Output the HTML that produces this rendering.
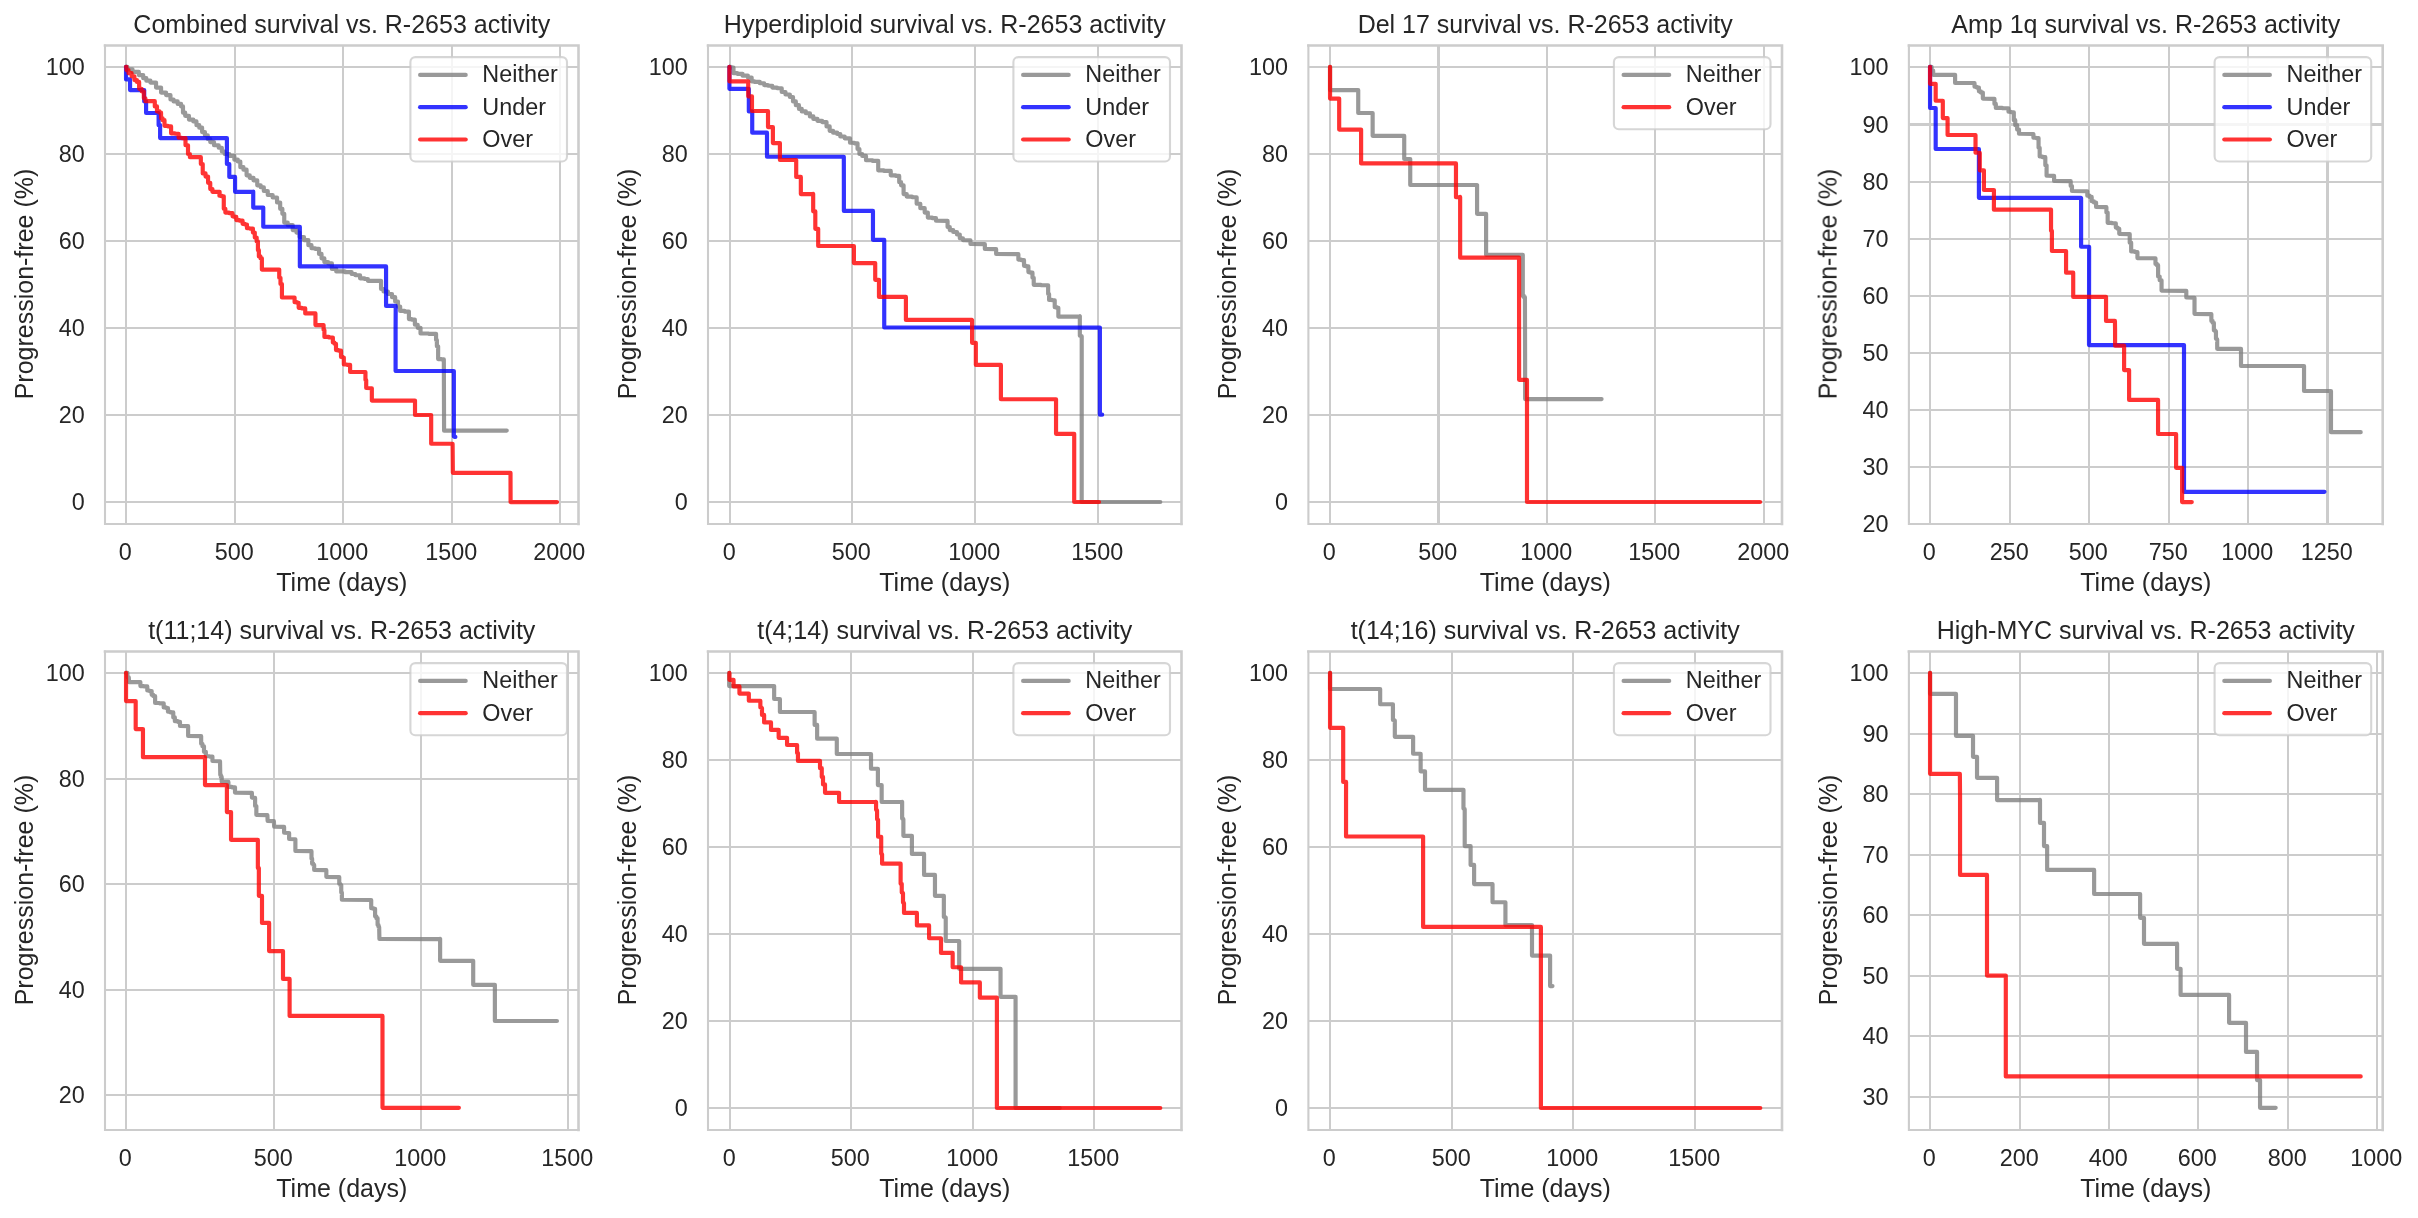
<!DOCTYPE html>
<html lang="en">
<head>
<meta charset="utf-8">
<title>Survival vs. R-2653 activity</title>
<style>
html,body{margin:0;padding:0;background:#ffffff;}
body{width:2418px;height:1218px;overflow:hidden;}
svg{display:block;}
svg text{font-family:"Liberation Sans", sans-serif;fill:#262626;}
</style>
</head>
<body>
<svg width="2418" height="1218" viewBox="0 0 2418 1218">
<rect width="2418" height="1218" fill="#ffffff"/>
<g>
<path d="M126 45.5V524M235 45.5V524M343 45.5V524M452 45.5V524M560 45.5V524M105 67H578.5M105 154H578.5M105 241H578.5M105 328H578.5M105 415H578.5M105 502H578.5" stroke="#cccccc" stroke-width="2.0" fill="none"/>
<g fill="none" stroke-width="4.17" stroke-linecap="round" stroke-linejoin="round" stroke-opacity="0.8">
<path d="M126.04 66.92L127.42 66.92L127.42 69.42L128.8 69.42L132.56 69.42L132.56 71.93L136.32 71.93L138.82 71.93L138.82 75.06L141.33 75.06L143.21 75.06L143.21 78.19L145.09 78.19L146.34 78.19L146.34 80.7L147.59 80.7L150.41 80.7L150.41 82.58L153.23 82.58L156.05 82.58L156.05 87.59L158.87 87.59L161.06 87.59L161.06 92.61L163.26 92.61L166.08 92.61L166.08 95.11L168.9 95.11L170.46 95.11L170.46 99.5L172.03 99.5L173.59 99.5L173.59 101.38L175.16 101.38L177.67 101.38L177.67 103.88L180.17 103.88L181.11 103.88L181.11 106.39L182.05 106.39L182.99 106.39L182.99 112.66L183.93 112.66L185.19 112.66L185.19 115.79L186.44 115.79L188.95 115.79L188.95 119.55L191.45 119.55L193.33 119.55L193.33 121.43L195.21 121.43L196.46 121.43L196.46 125.19L197.72 125.19L199.28 125.19L199.28 127.69L200.85 127.69L202.1 127.69L202.1 132.08L203.36 132.08L204.92 132.08L204.92 135.21L206.49 135.21L207.74 135.21L207.74 138.97L209 138.97L210.25 138.97L210.25 142.1L211.5 142.1L214.01 142.1L214.01 145.24L216.51 145.24L218.71 145.24L218.71 147.74L220.9 147.74L221.84 147.74L221.84 151.5L222.78 151.5L224.66 151.5L224.66 154.01L226.54 154.01L229.36 154.01L229.36 155.89L232.18 155.89L234.37 155.89L234.37 159.65L236.56 159.65L237.82 159.65L237.82 161.53L239.07 161.53L240.32 161.53L240.32 167.17L241.58 167.17L243.46 167.17L243.46 169.67L245.33 169.67L246.59 169.67L246.59 175.31L247.84 175.31L249.72 175.31L249.72 177.82L251.6 177.82L253.48 177.82L253.48 180.32L255.36 180.32L257.24 180.32L257.24 185.33L259.12 185.33L260.69 185.33L260.69 187.21L262.25 187.21L263.82 187.21L263.82 190.97L265.38 190.97L267.77 190.97L267.77 195.01L270.15 195.01L272.66 195.01L272.66 197.52L275.16 197.52L277.04 197.52L277.04 202.53L278.92 202.53L280.17 202.53L280.17 208.8L281.43 208.8L282.37 208.8L282.37 213.81L283.31 213.81L284.25 213.81L284.25 222.58L285.19 222.58L287.69 222.58L287.69 225.09L290.2 225.09L292.7 225.09L292.7 230.1L295.21 230.1L296.46 230.1L296.46 232.61L297.72 232.61L299.6 232.61L299.6 236.99L301.48 236.99L303.98 236.99L303.98 240.12L306.49 240.12L308.37 240.12L308.37 245.14L310.25 245.14L311.5 245.14L311.5 248.27L312.75 248.27L315.26 248.27L315.26 248.9L317.77 248.9L319.02 248.9L319.02 253.91L320.27 253.91L321.53 253.91L321.53 258.29L322.78 258.29L324.35 258.29L324.35 262.05L325.91 262.05L328.1 262.05L328.1 263.31L330.3 263.31L331.86 263.31L331.86 268.95L333.43 268.95L336.25 268.95L336.25 271.45L339.07 271.45L344.71 271.45L344.71 272.08L350.35 272.08L351.6 272.08L351.6 273.96L352.85 273.96L355.36 273.96L355.36 275.21L357.87 275.21L360.06 275.21L360.06 278.34L362.25 278.34L364.44 278.34L364.44 278.97L366.64 278.97L367.89 278.97L367.89 280.85L369.14 280.85L380.42 280.85L381.05 280.85L381.05 289L381.67 289L383.55 289L383.55 291.5L385.43 291.5L387.94 291.5L387.94 294.01L390.45 294.01L392.01 294.01L392.01 297.14L393.58 297.14L395.15 297.14L395.15 301.53L396.71 301.53L397.97 301.53L397.97 306.54L399.22 306.54L400.16 306.54L400.16 310.92L401.1 310.92L404.54 310.92L404.54 311.55L407.99 311.55L408.93 311.55L408.93 319.07L409.87 319.07L411.75 319.07L411.75 319.7L413.63 319.7L414.88 319.7L414.88 324.71L416.14 324.71L417.7 324.71L417.7 327.84L419.27 327.84L420.52 327.84L420.52 333.48L421.77 333.48L428.67 333.48L428.67 333.86L435.56 333.86L436.06 333.86L436.06 340.02L436.56 340.02L436.88 340.02L436.88 346.29L437.19 346.29L438.13 346.29L438.13 359.07L439.07 359.07L441.45 359.07L441.45 359.45L443.83 359.45L444.08 430.62L506.76 430.62" stroke="#808080"/>
<path d="M126.04 66.92L126.04 79.45L130.05 79.45L130.05 90.1L144.21 90.1L144.21 101.38L146.09 101.38L146.09 113.03L158.62 113.03L158.62 125.19L160.12 125.19L160.12 138.09L226.91 138.09L226.91 164.03L229.3 164.03L229.3 176.94L235.06 176.94L235.06 191.85L253.23 191.85L253.23 191.5L253.23 207.54L263.26 207.54L263.26 226.72L299.85 226.72L299.85 266.44L386.06 266.44L386.06 305.91L395.71 305.91L395.59 330L395.59 370.98L453.86 370.98L453.86 436.51L454.62 436.51L454.62 436.89L455.39 436.89" stroke="#0000ff"/>
<path d="M126.04 66.92L126.48 66.92L126.48 70.05L126.92 70.05L128.48 70.05L128.48 73.18L130.05 73.18L131.62 73.18L131.62 76.32L133.18 76.32L134.44 76.32L134.44 80.07L135.69 80.07L136.94 80.07L136.94 81.95L138.19 81.95L139.13 81.95L139.13 88.85L140.07 88.85L141.64 88.85L141.64 91.35L143.21 91.35L143.83 91.35L143.83 98.24L144.46 98.24L145.4 98.24L145.4 101.13L146.34 101.13L153.86 101.13L154.8 101.13L154.8 106.39L155.74 106.39L156.99 106.39L156.99 111.4L158.24 111.4L159.5 111.4L159.5 112.66L160.75 112.66L161.06 112.66L161.06 118.29L161.38 118.29L162.63 118.29L162.63 120.17L163.88 120.17L164.51 120.17L164.51 125.81L165.14 125.81L167.96 125.81L167.96 126.44L170.78 126.44L171.09 126.44L171.09 133.33L171.4 133.33L174.85 133.33L174.85 133.71L178.29 133.71L178.61 133.71L178.61 137.72L178.92 137.72L181.74 137.72L181.74 138.09L184.56 138.09L185.5 138.09L185.5 145.24L186.44 145.24L188.01 145.24L188.01 154.01L189.57 154.01L189.89 154.01L189.89 157.14L190.2 157.14L200.22 157.14L200.85 157.14L200.85 164.03L201.48 164.03L202.73 164.03L202.73 173.43L203.98 173.43L205.55 173.43L205.55 176.56L207.12 176.56L208.06 176.56L208.06 182.83L209 182.83L210.25 182.83L210.25 189.09L211.5 189.09L212.44 189.09L212.44 191.85L213.38 191.85L219.65 191.85L219.4 195.64L221.28 195.64L221.28 196.27L223.16 196.27L223.78 196.27L223.78 208.8L224.41 208.8L225.35 208.8L225.35 212.56L226.29 212.56L229.11 212.56L229.11 213.18L231.93 213.18L232.56 213.18L232.56 216.32L233.18 216.32L234.44 216.32L234.44 216.94L235.69 216.94L236.32 216.94L236.32 220.07L236.94 220.07L239.45 220.07L239.45 220.7L241.95 220.7L242.58 220.7L242.58 223.83L243.21 223.83L244.77 223.83L244.77 224.46L246.34 224.46L246.97 224.46L246.97 228.22L247.59 228.22L249.79 228.22L249.79 228.6L251.98 228.6L252.92 228.6L252.92 232.61L253.86 232.61L254.8 232.61L254.8 237.62L255.74 237.62L256.68 237.62L256.68 241.38L257.62 241.38L257.93 241.38L257.93 250.15L258.24 250.15L258.87 250.15L258.87 256.41L259.5 256.41L260.44 256.41L260.44 258.29L261.38 258.29L261.88 258.29L261.88 269.57L262.38 269.57L278.92 269.57L279.23 269.57L279.23 277.72L279.55 277.72L280.49 277.72L280.49 283.98L281.43 283.98L281.93 283.98L281.93 297.52L282.43 297.52L293.96 297.52L294.58 297.52L294.58 302.15L295.21 302.15L296.78 302.15L296.78 302.78L298.34 302.78L298.66 302.78L298.66 307.79L298.97 307.79L301.79 307.79L301.79 308.42L304.61 308.42L305.24 308.42L305.24 313.43L305.86 313.43L315.26 313.43L315.45 313.43L315.45 325.08L315.64 325.08L323.41 325.08L323.59 325.08L323.59 330L323.78 330L324.41 330L324.41 336.89L325.04 336.89L328.8 336.89L328.8 337.52L332.56 337.52L332.87 337.52L332.87 342.53L333.18 342.53L334.44 342.53L334.44 343.78L335.69 343.78L336 343.78L336 350.05L336.32 350.05L338.51 350.05L338.51 350.68L340.7 350.68L341.01 350.68L341.01 356.94L341.33 356.94L342.46 356.94L342.46 357.57L343.58 357.57L343.83 357.57L343.83 364.46L344.08 364.46L346.97 364.46L346.97 364.84L349.85 364.84L350.1 364.84L350.1 371.98L350.35 371.98L365.14 371.98L365.45 371.98L365.45 380.12L365.76 380.12L366.2 380.12L366.2 388.02L366.64 388.02L371.65 388.27L371.84 388.27L371.84 400.55L372.03 400.55L415.01 400.55L415.01 414.96L431.17 414.96L431.17 443.78L452.6 443.78L452.85 472.85L510.5 472.85L510.6 502.1L557 502.1" stroke="#ff0000"/>
</g>
<path d="M105 45.5V524M105 524H578.5" stroke="#cccccc" stroke-width="2.1" stroke-linecap="square" fill="none"/>
<path d="M105 45.5H578.5M578.5 45.5V524" stroke="#cccccc" stroke-width="2.6" stroke-linecap="square" fill="none"/>
<rect x="410.4" y="57.1" width="156.6" height="104.4" rx="5" ry="5" fill="#ffffff" fill-opacity="0.8" stroke="#cccccc" stroke-opacity="0.8" stroke-width="2.1"/>
<path d="M420.1 74.9H465.7" stroke="#808080" stroke-opacity="0.8" stroke-width="4.17" stroke-linecap="round" fill="none"/>
<path d="M420.1 107.2H465.7" stroke="#0000ff" stroke-opacity="0.8" stroke-width="4.17" stroke-linecap="round" fill="none"/>
<path d="M420.1 139.5H465.7" stroke="#ff0000" stroke-opacity="0.8" stroke-width="4.17" stroke-linecap="round" fill="none"/>
<g opacity="0.999">
<text transform="translate(482.35 82.35) scale(1 1.01)" font-size="23.4">Neither</text>
<text transform="translate(482.35 114.65) scale(1 1.01)" font-size="23.4">Under</text>
<text transform="translate(482.35 146.95) scale(1 1.01)" font-size="23.4">Over</text>
<text transform="translate(125.3 560.1) scale(1 1.01)" font-size="23.4" text-anchor="middle">0</text>
<text transform="translate(234.3 560.1) scale(1 1.01)" font-size="23.4" text-anchor="middle">500</text>
<text transform="translate(342.3 560.1) scale(1 1.01)" font-size="23.4" text-anchor="middle">1000</text>
<text transform="translate(451.3 560.1) scale(1 1.01)" font-size="23.4" text-anchor="middle">1500</text>
<text transform="translate(559.3 560.1) scale(1 1.01)" font-size="23.4" text-anchor="middle">2000</text>
<text transform="translate(84.65 75.2) scale(1 1.01)" font-size="23.4" text-anchor="end">100</text>
<text transform="translate(84.65 162.2) scale(1 1.01)" font-size="23.4" text-anchor="end">80</text>
<text transform="translate(84.65 249.2) scale(1 1.01)" font-size="23.4" text-anchor="end">60</text>
<text transform="translate(84.65 336.2) scale(1 1.01)" font-size="23.4" text-anchor="end">40</text>
<text transform="translate(84.65 423.2) scale(1 1.01)" font-size="23.4" text-anchor="end">20</text>
<text transform="translate(84.65 510.2) scale(1 1.01)" font-size="23.4" text-anchor="end">0</text>
<text x="341.75" y="32.9" font-size="25.0" text-anchor="middle">Combined survival vs. R-2653 activity</text>
<text x="341.75" y="590.6" font-size="25.0" text-anchor="middle">Time (days)</text>
<text transform="translate(32.7 284.05) rotate(-90)" font-size="25.0" text-anchor="middle">Progression-free (%)</text>
</g>
</g>
<g>
<path d="M730 45.5V524M852 45.5V524M975 45.5V524M1098 45.5V524M708 67H1181.5M708 154H1181.5M708 241H1181.5M708 328H1181.5M708 415H1181.5M708 502H1181.5" stroke="#cccccc" stroke-width="2.0" fill="none"/>
<g fill="none" stroke-width="4.17" stroke-linecap="round" stroke-linejoin="round" stroke-opacity="0.8">
<path d="M729.41 66.92L730.98 66.92L730.98 67.54L732.54 67.54L733.48 67.54L733.48 73.18L734.42 73.18L737.24 73.18L737.24 73.81L740.06 73.81L742.57 73.81L742.57 75.69L745.07 75.69L747.89 75.69L747.89 77.57L750.71 77.57L751.65 77.57L751.65 81.33L752.59 81.33L754.47 81.33L754.47 81.95L756.35 81.95L759.8 81.95L759.8 83.21L763.24 83.21L764.18 83.21L764.18 85.09L765.12 85.09L767.94 85.09L767.94 85.71L770.76 85.71L772.33 85.71L772.33 87.59L773.9 87.59L777.03 87.59L777.03 88.22L780.16 88.22L781.73 88.22L781.73 91.98L783.29 91.98L785.49 91.98L785.49 94.49L787.68 94.49L789.87 94.49L789.87 96.99L792.07 96.99L793.01 96.99L793.01 101.38L793.95 101.38L795.83 101.38L795.83 105.14L797.7 105.14L798.96 105.14L798.96 108.9L800.21 108.9L801.78 108.9L801.78 111.4L803.34 111.4L805.85 111.4L805.85 113.28L808.36 113.28L809.92 113.28L809.92 116.41L811.49 116.41L813.37 116.41L813.37 118.92L815.25 118.92L817.44 118.92L817.44 120.8L819.63 120.8L822.14 120.8L822.14 122.05L824.65 122.05L826.53 122.05L826.53 126.44L828.41 126.44L829.66 126.44L829.66 130.83L830.91 130.83L833.1 130.83L833.1 132.7L835.3 132.7L837.18 132.7L837.18 133.96L839.06 133.96L840.31 133.96L840.31 136.46L841.56 136.46L844.7 136.46L844.7 138.34L847.83 138.34L850.02 138.34L850.02 142.73L852.21 142.73L854.41 142.73L854.41 143.36L856.6 143.36L857.54 143.36L857.54 149L858.48 149L859.42 149L859.42 154.01L860.36 154.01L862.24 154.01L862.24 155.89L864.12 155.89L866 155.89L866 160.27L867.88 160.27L872.58 160.27L872.58 160.9L877.28 160.9L878.22 160.9L878.22 170.3L879.16 170.3L883.86 170.3L883.86 170.92L888.55 170.92L890.75 170.92L890.75 175.31L892.94 175.31L895.76 175.31L895.76 175.94L898.58 175.94L899.21 175.94L899.21 182.2L899.83 182.2L901.09 182.2L901.09 185.33L902.34 185.33L903.59 185.33L903.59 194.11L904.84 194.11L906.72 194.11L906.72 196.61L908.6 196.61L912.05 196.61L912.05 197.24L915.5 197.24L916.66 197.24L916.66 203.78L917.82 203.78L920.32 203.78L920.32 208.17L922.83 208.17L924.71 208.17L924.71 212.56L926.59 212.56L927.84 212.56L927.84 217.57L929.09 217.57L932.23 217.57L932.23 218.19L935.36 218.19L935.99 218.19L935.99 220.7L936.61 220.7L946.64 220.95L947.58 220.95L947.58 226.97L948.52 226.97L949.77 226.97L949.77 230.1L951.02 230.1L953.22 230.1L953.22 231.98L955.41 231.98L956.98 231.98L956.98 234.49L958.54 234.49L959.8 234.49L959.8 238.24L961.05 238.24L962.93 238.24L962.93 240.12L964.81 240.12L969.82 240.37L970.45 240.37L970.45 243.88L971.07 243.88L984.23 244.13L984.86 244.13L984.86 248.9L985.48 248.9L995.51 249.15L996.14 249.15L996.14 253.91L996.76 253.91L1018.06 254.16L1018.38 254.16L1018.38 259.55L1018.69 259.55L1021.2 259.55L1021.2 260.17L1023.7 260.17L1024.02 260.17L1024.02 265.81L1024.33 265.81L1026.21 265.81L1026.21 266.44L1028.09 266.44L1028.4 266.44L1028.4 272.08L1028.72 272.08L1030.28 272.08L1030.28 272.7L1031.85 272.7L1032.48 272.7L1032.48 277.72L1033.1 277.72L1033.73 277.72L1033.73 284.86L1034.35 284.86L1040.93 284.86L1040.93 285.24L1047.51 285.24L1048.14 285.24L1048.14 294.01L1048.77 294.01L1049.08 294.01L1049.08 299.9L1049.39 299.9L1051.9 299.9L1051.9 300.27L1054.4 300.27L1054.72 300.27L1054.72 307.17L1055.03 307.17L1056.6 307.17L1056.6 307.79L1058.16 307.79L1058.35 307.79L1058.35 316.56L1058.54 316.56L1079.47 316.56L1079.84 316.27L1079.84 335.69L1080.78 335.69L1080.78 336.32L1081.72 336.32L1081.7 502L1160.3 502" stroke="#808080"/>
<path d="M729.41 66.92L729.41 88.85L748.83 88.85L748.83 111.4L752.22 111.4L752.22 132.7L767 132.7L767 156.76L843.82 156.76L843.88 190L843.88 210.93L872.96 210.93L872.96 239.87L884.23 239.87L884.23 327.47L1099.89 327.54L1099.89 414.63L1102.18 414.63" stroke="#0000ff"/>
<path d="M729.41 66.92L729.41 81.33L748.21 81.33L748.21 96.36L751.97 96.36L751.97 111.03L768.01 111.03L768.01 127.07L772.89 127.07L772.89 143.11L779.91 143.11L779.91 160.02L796.2 160.02L796.2 176.94L800.84 176.94L800.84 194.11L813.12 194.11L813.18 193.76L813.18 211.3L815.31 211.3L815.31 228.85L818.19 228.85L818.19 246.01L853.91 246.01L853.91 263.06L875.21 263.06L875.21 279.85L878.97 279.85L878.97 296.89L905.91 296.89L905.91 319.95L971.95 319.95L972.08 320.02L972.08 342.83L975.84 342.83L975.84 364.89L1000.9 364.89L1000.9 399.22L1056.04 399.22L1056.04 433.81L1074.21 433.81L1074.2 502L1099 502" stroke="#ff0000"/>
</g>
<path d="M708 45.5V524M708 524H1181.5" stroke="#cccccc" stroke-width="2.1" stroke-linecap="square" fill="none"/>
<path d="M708 45.5H1181.5M1181.5 45.5V524" stroke="#cccccc" stroke-width="2.6" stroke-linecap="square" fill="none"/>
<rect x="1013.4" y="57.1" width="156.6" height="104.4" rx="5" ry="5" fill="#ffffff" fill-opacity="0.8" stroke="#cccccc" stroke-opacity="0.8" stroke-width="2.1"/>
<path d="M1023.1 74.9H1068.7" stroke="#808080" stroke-opacity="0.8" stroke-width="4.17" stroke-linecap="round" fill="none"/>
<path d="M1023.1 107.2H1068.7" stroke="#0000ff" stroke-opacity="0.8" stroke-width="4.17" stroke-linecap="round" fill="none"/>
<path d="M1023.1 139.5H1068.7" stroke="#ff0000" stroke-opacity="0.8" stroke-width="4.17" stroke-linecap="round" fill="none"/>
<g opacity="0.999">
<text transform="translate(1085.35 82.35) scale(1 1.01)" font-size="23.4">Neither</text>
<text transform="translate(1085.35 114.65) scale(1 1.01)" font-size="23.4">Under</text>
<text transform="translate(1085.35 146.95) scale(1 1.01)" font-size="23.4">Over</text>
<text transform="translate(729.3 560.1) scale(1 1.01)" font-size="23.4" text-anchor="middle">0</text>
<text transform="translate(851.3 560.1) scale(1 1.01)" font-size="23.4" text-anchor="middle">500</text>
<text transform="translate(974.3 560.1) scale(1 1.01)" font-size="23.4" text-anchor="middle">1000</text>
<text transform="translate(1097.3 560.1) scale(1 1.01)" font-size="23.4" text-anchor="middle">1500</text>
<text transform="translate(687.65 75.2) scale(1 1.01)" font-size="23.4" text-anchor="end">100</text>
<text transform="translate(687.65 162.2) scale(1 1.01)" font-size="23.4" text-anchor="end">80</text>
<text transform="translate(687.65 249.2) scale(1 1.01)" font-size="23.4" text-anchor="end">60</text>
<text transform="translate(687.65 336.2) scale(1 1.01)" font-size="23.4" text-anchor="end">40</text>
<text transform="translate(687.65 423.2) scale(1 1.01)" font-size="23.4" text-anchor="end">20</text>
<text transform="translate(687.65 510.2) scale(1 1.01)" font-size="23.4" text-anchor="end">0</text>
<text x="944.75" y="32.9" font-size="25.0" text-anchor="middle">Hyperdiploid survival vs. R-2653 activity</text>
<text x="944.75" y="590.6" font-size="25.0" text-anchor="middle">Time (days)</text>
<text transform="translate(635.7 284.05) rotate(-90)" font-size="25.0" text-anchor="middle">Progression-free (%)</text>
</g>
</g>
<g>
<path d="M1330 45.5V524M1547 45.5V524M1655 45.5V524M1764 45.5V524M1308.4 67H1782M1308.4 154H1782M1308.4 241H1782M1308.4 328H1782M1308.4 415H1782M1308.4 502H1782" stroke="#cccccc" stroke-width="2.0" fill="none"/>
<path d="M1438.5 45.5V524" stroke="#cccccc" stroke-width="3" fill="none"/>
<g fill="none" stroke-width="4.17" stroke-linecap="round" stroke-linejoin="round" stroke-opacity="0.8">
<path d="M1330.04 66.92L1330.04 90.1L1358.23 90.1L1358.23 113.03L1372.64 113.03L1372.64 135.84L1404.22 135.84L1404.22 159.02L1410.24 159.02L1410.24 184.96L1477.03 184.96L1477.07 185.01L1477.07 213.83L1486.09 213.83L1486.09 254.81L1522.8 254.81L1522.8 295.91L1523.87 295.91L1523.87 297.17L1524.93 297.17L1525.11 360L1525.11 399.1L1601.58 399.1" stroke="#808080"/>
<path d="M1330.04 66.92L1330.04 98.62L1339.18 98.62L1339.18 129.57L1361.11 129.57L1361.11 163.41L1455.97 163.41L1455.97 197.24L1460.11 197.24L1460.15 196.92L1460.15 257.69L1519.04 257.69L1519.1 360L1519.1 379.8L1526.99 379.8L1526.99 501.98L1760.09 501.98" stroke="#ff0000"/>
</g>
<path d="M1308.4 45.5V524M1308.4 524H1782" stroke="#cccccc" stroke-width="2.1" stroke-linecap="square" fill="none"/>
<path d="M1308.4 45.5H1782M1782 45.5V524" stroke="#cccccc" stroke-width="2.6" stroke-linecap="square" fill="none"/>
<rect x="1613.9" y="57.1" width="156.6" height="72.1" rx="5" ry="5" fill="#ffffff" fill-opacity="0.8" stroke="#cccccc" stroke-opacity="0.8" stroke-width="2.1"/>
<path d="M1623.6 74.9H1669.2" stroke="#808080" stroke-opacity="0.8" stroke-width="4.17" stroke-linecap="round" fill="none"/>
<path d="M1623.6 107.2H1669.2" stroke="#ff0000" stroke-opacity="0.8" stroke-width="4.17" stroke-linecap="round" fill="none"/>
<g opacity="0.999">
<text transform="translate(1685.85 82.35) scale(1 1.01)" font-size="23.4">Neither</text>
<text transform="translate(1685.85 114.65) scale(1 1.01)" font-size="23.4">Over</text>
<text transform="translate(1329.3 560.1) scale(1 1.01)" font-size="23.4" text-anchor="middle">0</text>
<text transform="translate(1437.8 560.1) scale(1 1.01)" font-size="23.4" text-anchor="middle">500</text>
<text transform="translate(1546.3 560.1) scale(1 1.01)" font-size="23.4" text-anchor="middle">1000</text>
<text transform="translate(1654.3 560.1) scale(1 1.01)" font-size="23.4" text-anchor="middle">1500</text>
<text transform="translate(1763.3 560.1) scale(1 1.01)" font-size="23.4" text-anchor="middle">2000</text>
<text transform="translate(1288.05 75.2) scale(1 1.01)" font-size="23.4" text-anchor="end">100</text>
<text transform="translate(1288.05 162.2) scale(1 1.01)" font-size="23.4" text-anchor="end">80</text>
<text transform="translate(1288.05 249.2) scale(1 1.01)" font-size="23.4" text-anchor="end">60</text>
<text transform="translate(1288.05 336.2) scale(1 1.01)" font-size="23.4" text-anchor="end">40</text>
<text transform="translate(1288.05 423.2) scale(1 1.01)" font-size="23.4" text-anchor="end">20</text>
<text transform="translate(1288.05 510.2) scale(1 1.01)" font-size="23.4" text-anchor="end">0</text>
<text x="1545.2" y="32.9" font-size="25.0" text-anchor="middle">Del 17 survival vs. R-2653 activity</text>
<text x="1545.2" y="590.6" font-size="25.0" text-anchor="middle">Time (days)</text>
<text transform="translate(1236.1 284.05) rotate(-90)" font-size="25.0" text-anchor="middle">Progression-free (%)</text>
</g>
</g>
<g>
<path d="M1930 45.5V524M2010 45.5V524M2089 45.5V524M2169 45.5V524M2248 45.5V524M1908.9 67H2382.7M1908.9 182H2382.7M1908.9 239H2382.7M1908.9 296H2382.7M1908.9 353H2382.7M1908.9 410H2382.7M1908.9 467H2382.7" stroke="#cccccc" stroke-width="2.0" fill="none"/>
<path d="M2327.5 45.5V524M1908.9 124.5H2382.7" stroke="#cccccc" stroke-width="3" fill="none"/>
<g fill="none" stroke-width="4.17" stroke-linecap="round" stroke-linejoin="round" stroke-opacity="0.8">
<path d="M1930.04 66.92L1931.6 66.92L1931.6 70.68L1933.17 70.68L1933.17 74.81L1955.1 74.81L1955.1 82.96L1973.9 82.96L1974.52 82.96L1974.52 86.72L1975.15 86.72L1976.72 86.72L1976.72 87.59L1978.28 87.59L1978.91 87.59L1978.91 91.35L1979.53 91.35L1980.79 91.35L1980.79 92.61L1982.04 92.61L1982.86 92.61L1982.86 98.62L1983.67 98.62L1993.69 98.87L1994.45 98.87L1994.45 103.88L1995.2 103.88L1995.83 103.88L1995.83 107.89L1996.45 107.89L2002.22 107.89L2002.22 108.27L2007.98 108.27L2008.48 108.27L2008.48 111.78L2008.98 111.78L2010.99 111.78L2010.99 112.28L2012.99 112.28L2013.81 112.28L2013.81 120.17L2014.62 120.17L2015.25 120.17L2015.25 125.19L2015.87 125.19L2017.13 125.19L2017.13 129.57L2018.38 129.57L2019.01 129.57L2019.01 133.71L2019.63 133.71L2032.79 133.96L2033.42 133.96L2033.42 137.72L2034.04 137.72L2036.05 137.72L2036.05 138.09L2038.05 138.09L2038.56 138.09L2038.56 147.74L2039.06 147.74L2039.68 147.74L2039.68 156.51L2040.31 156.51L2042.5 156.51L2042.5 157.14L2044.7 157.14L2045.32 157.14L2045.32 165.29L2045.95 165.29L2046.58 165.29L2046.58 175.69L2047.2 175.69L2053.84 175.94L2054.09 175.94L2054.09 180.95L2054.34 180.95L2069.76 181.2L2070.7 181.2L2070.7 185.96L2071.64 185.96L2071.95 185.96L2071.95 190.97L2072.26 190.97L2086.67 191.22L2086.99 191.25L2087.3 191.25L2087.3 195.64L2087.62 195.64L2089.5 195.64L2089.5 196.89L2091.38 196.89L2091.69 196.89L2091.69 201.28L2092 201.28L2093.88 201.28L2093.88 202.53L2095.76 202.53L2096.08 202.53L2096.08 206.92L2096.39 206.92L2105.79 207.17L2106.41 207.17L2106.41 212.56L2107.04 212.56L2107.67 212.56L2107.67 222.83L2108.29 222.83L2111.74 222.83L2111.74 223.21L2115.19 223.21L2115.81 223.21L2115.81 227.59L2116.44 227.59L2117.69 227.59L2117.69 228.85L2118.95 228.85L2119.26 228.85L2119.26 233.86L2119.57 233.86L2129.22 234.11L2129.72 234.11L2129.72 242.63L2130.22 242.63L2131.16 242.63L2131.16 251.4L2132.1 251.4L2134.61 251.4L2134.61 252.03L2137.12 252.03L2137.43 252.03L2137.43 258.04L2137.74 258.04L2155.03 258.29L2155.47 258.29L2155.47 263.93L2155.91 263.93L2156.85 263.93L2156.85 265.19L2157.79 265.19L2158.1 265.19L2158.1 276.46L2158.42 276.46L2159.67 276.46L2159.67 280.22L2160.92 280.22L2161.55 280.22L2161.55 290.62L2162.18 290.62L2185.99 290.87L2186.3 290.87L2186.3 297.52L2186.61 297.52L2193.88 297.77L2194.51 297.77L2194.51 313.81L2195.13 313.81L2211.05 314.06L2211.36 314.06L2211.36 320.95L2211.67 320.95L2212.61 320.95L2212.61 322.83L2213.55 322.83L2213.87 322.83L2213.87 330.35L2214.18 330.35L2215.07 330.35L2215.07 331.25L2215.95 331.25L2215.95 338.77L2216.58 338.77L2216.58 339.4L2217.2 339.4L2217.2 348.8L2241.01 348.8L2241.01 365.96L2304.04 365.96L2304.04 391.03L2330.98 391.03L2330.98 432.13L2360.71 432.13" stroke="#808080"/>
<path d="M1930.04 66.92L1930.04 108.02L1935.68 108.02L1935.68 149L1978.91 149L1978.91 197.87L2081.04 197.87L2081.1 197.89L2081.1 246.77L2089.12 246.77L2089.01 330L2089.01 345.04L2184 345.04L2184 491.8L2324.5 491.8" stroke="#0000ff"/>
<path d="M1930.04 66.92L1930.04 83.83L1935.68 83.83L1935.68 100.75L1942.82 100.75L1942.82 118.04L1947.58 118.04L1947.58 134.96L1975.52 134.96L1975.52 152.75L1979.79 152.75L1979.79 170.3L1983.92 170.3L1983.92 189.97L1993.95 189.97L1993.89 209.67L2051.03 209.67L2051.03 230.73L2051.9 230.73L2051.9 251.03L2066.06 251.03L2066.06 272.7L2073.21 272.7L2073.21 296.89L2106.04 296.89L2106.04 320.95L2114.94 320.95L2115.07 330L2115.07 345.66L2124.1 345.66L2124.1 370.1L2129.11 370.1L2129.11 399.92L2158.06 399.92L2158.06 434.01L2176.1 434.01L2176.1 467.84L2182.12 467.84L2182.1 502.1L2191.8 502.1" stroke="#ff0000"/>
</g>
<path d="M1908.9 45.5V524M1908.9 524H2382.7" stroke="#cccccc" stroke-width="2.1" stroke-linecap="square" fill="none"/>
<path d="M1908.9 45.5H2382.7M2382.7 45.5V524" stroke="#cccccc" stroke-width="2.6" stroke-linecap="square" fill="none"/>
<rect x="2214.6" y="57.1" width="156.6" height="104.4" rx="5" ry="5" fill="#ffffff" fill-opacity="0.8" stroke="#cccccc" stroke-opacity="0.8" stroke-width="2.1"/>
<path d="M2224.3 74.9H2269.9" stroke="#808080" stroke-opacity="0.8" stroke-width="4.17" stroke-linecap="round" fill="none"/>
<path d="M2224.3 107.2H2269.9" stroke="#0000ff" stroke-opacity="0.8" stroke-width="4.17" stroke-linecap="round" fill="none"/>
<path d="M2224.3 139.5H2269.9" stroke="#ff0000" stroke-opacity="0.8" stroke-width="4.17" stroke-linecap="round" fill="none"/>
<g opacity="0.999">
<text transform="translate(2286.55 82.35) scale(1 1.01)" font-size="23.4">Neither</text>
<text transform="translate(2286.55 114.65) scale(1 1.01)" font-size="23.4">Under</text>
<text transform="translate(2286.55 146.95) scale(1 1.01)" font-size="23.4">Over</text>
<text transform="translate(1929.3 560.1) scale(1 1.01)" font-size="23.4" text-anchor="middle">0</text>
<text transform="translate(2009.3 560.1) scale(1 1.01)" font-size="23.4" text-anchor="middle">250</text>
<text transform="translate(2088.3 560.1) scale(1 1.01)" font-size="23.4" text-anchor="middle">500</text>
<text transform="translate(2168.3 560.1) scale(1 1.01)" font-size="23.4" text-anchor="middle">750</text>
<text transform="translate(2247.3 560.1) scale(1 1.01)" font-size="23.4" text-anchor="middle">1000</text>
<text transform="translate(2326.8 560.1) scale(1 1.01)" font-size="23.4" text-anchor="middle">1250</text>
<text transform="translate(1888.55 75.2) scale(1 1.01)" font-size="23.4" text-anchor="end">100</text>
<text transform="translate(1888.55 132.7) scale(1 1.01)" font-size="23.4" text-anchor="end">90</text>
<text transform="translate(1888.55 190.2) scale(1 1.01)" font-size="23.4" text-anchor="end">80</text>
<text transform="translate(1888.55 247.2) scale(1 1.01)" font-size="23.4" text-anchor="end">70</text>
<text transform="translate(1888.55 304.2) scale(1 1.01)" font-size="23.4" text-anchor="end">60</text>
<text transform="translate(1888.55 361.2) scale(1 1.01)" font-size="23.4" text-anchor="end">50</text>
<text transform="translate(1888.55 418.2) scale(1 1.01)" font-size="23.4" text-anchor="end">40</text>
<text transform="translate(1888.55 475.2) scale(1 1.01)" font-size="23.4" text-anchor="end">30</text>
<text transform="translate(1888.55 532.2) scale(1 1.01)" font-size="23.4" text-anchor="end">20</text>
<text x="2145.8" y="32.9" font-size="25.0" text-anchor="middle">Amp 1q survival vs. R-2653 activity</text>
<text x="2145.8" y="590.6" font-size="25.0" text-anchor="middle">Time (days)</text>
<text transform="translate(1836.6 284.05) rotate(-90)" font-size="25.0" text-anchor="middle">Progression-free (%)</text>
</g>
</g>
<g>
<path d="M126 651.5V1130M274 651.5V1130M421 651.5V1130M568 651.5V1130M105 673H578.5M105 779H578.5M105 884H578.5M105 990H578.5M105 1095H578.5" stroke="#cccccc" stroke-width="2.0" fill="none"/>
<g fill="none" stroke-width="4.17" stroke-linecap="round" stroke-linejoin="round" stroke-opacity="0.8">
<path d="M126.04 672.92L127.42 672.92L127.42 677.3L128.8 677.3L129.05 682.06L140.07 682.06L140.39 682.06L140.39 686.07L140.7 686.07L143.83 686.07L143.83 686.45L146.97 686.45L147.28 686.45L147.28 690.46L147.59 690.46L149.47 690.46L149.47 691.09L151.35 691.09L151.67 691.09L151.67 694.85L151.98 694.85L153.23 694.85L153.23 696.1L154.49 696.1L155.11 696.1L155.11 702.99L155.74 702.99L159.5 702.99L159.5 703.37L163.26 703.37L163.7 703.37L163.7 707.38L164.13 707.38L165.89 707.38L165.89 708L167.64 708L167.96 708L167.96 711.76L168.27 711.76L170.46 711.76L170.46 712.39L172.66 712.39L173.28 712.39L173.28 717.4L173.91 717.4L174.85 717.4L174.85 721.16L175.79 721.16L177.67 721.16L177.67 721.79L179.55 721.79L179.99 721.79L179.99 725.92L180.42 725.92L187.94 726.17L188.13 726.17L188.13 735.95L188.32 735.95L200.85 736.2L201.16 736.2L201.16 743.72L201.48 743.72L202.42 743.72L202.42 746.22L203.36 746.22L203.98 746.22L203.98 751.86L204.61 751.86L205.86 751.86L205.86 756.25L207.12 756.25L209.62 756.25L209.62 756.62L212.13 756.62L212.44 756.62L212.44 761.01L212.75 761.01L220.02 761.26L220.27 775.04L220.9 775.04L220.9 776.92L221.53 776.92L221.71 776.92L221.71 781.69L221.9 781.69L227.79 781.94L228.42 781.94L228.42 786.95L229.04 786.95L231.86 786.95L231.86 787.33L234.68 787.33L235 787.33L235 792.59L235.31 792.59L251.6 792.84L251.91 792.84L251.91 797.6L252.23 797.6L254.47 797.88L255.1 797.88L255.1 806.02L255.73 806.02L256.35 806.02L256.35 814.8L256.98 814.8L267.38 815.05L267.63 820.81L273.9 821.06L274.15 826.7L283.92 826.95L284.11 826.95L284.11 832.72L284.3 832.72L288.93 832.97L289.12 832.97L289.12 838.98L289.31 838.98L295.2 839.23L295.39 839.23L295.39 850.89L295.57 850.89L311.24 851.14L311.49 851.14L311.49 858.66L311.74 858.66L312.12 858.66L312.12 863.67L312.49 863.67L313.24 863.67L313.24 864.92L314 864.92L314.18 864.92L314.18 869.93L314.37 869.93L326.15 870.18L326.34 870.18L326.34 876.83L326.53 876.83L339.06 877.08L339.25 877.08L339.25 883.72L339.43 883.72L340.18 883.72L340.18 884.97L340.94 884.97L341.25 884.97L341.25 892.49L341.56 892.49L341.88 892.49L341.88 899.76L342.19 899.76L371.01 900.01L371.2 900.01L371.2 908.15L371.39 908.15L373.08 908.15L373.08 908.78L374.77 908.78L375.08 908.78L375.08 916.3L375.4 916.3L376.34 916.3L376.34 918.18L377.28 918.18L377.59 918.18L377.59 925.07L377.9 925.07L378.53 925.07L378.53 926.95L379.16 926.95L379.41 938.85L440.18 939.1L440.12 938.76L440.12 960.81L473.2 960.81L473.2 984.87L494.88 984.87L494.88 1020.96L556.94 1020.96" stroke="#808080"/>
<path d="M126.04 672.92L126.04 701.11L135.69 701.11L135.69 729.06L142.96 729.06L142.96 757.13L204.99 757.13L204.99 785.07L226.91 785.07L226.9 796L226.9 812.04L231.04 812.04L231.04 839.86L257.86 839.86L257.86 868.05L258.86 868.05L258.86 895.87L261.99 895.87L261.99 922.94L269.13 922.94L269.1 951.1L283 951.1L283 978.9L289.6 978.9L289.6 1015.9L382.48 1015.95L382.5 1107.8L458.9 1107.8" stroke="#ff0000"/>
</g>
<path d="M105 651.5V1130M105 1130H578.5" stroke="#cccccc" stroke-width="2.1" stroke-linecap="square" fill="none"/>
<path d="M105 651.5H578.5M578.5 651.5V1130" stroke="#cccccc" stroke-width="2.6" stroke-linecap="square" fill="none"/>
<rect x="410.4" y="663.1" width="156.6" height="72.1" rx="5" ry="5" fill="#ffffff" fill-opacity="0.8" stroke="#cccccc" stroke-opacity="0.8" stroke-width="2.1"/>
<path d="M420.1 680.9H465.7" stroke="#808080" stroke-opacity="0.8" stroke-width="4.17" stroke-linecap="round" fill="none"/>
<path d="M420.1 713.2H465.7" stroke="#ff0000" stroke-opacity="0.8" stroke-width="4.17" stroke-linecap="round" fill="none"/>
<g opacity="0.999">
<text transform="translate(482.35 688.35) scale(1 1.01)" font-size="23.4">Neither</text>
<text transform="translate(482.35 720.65) scale(1 1.01)" font-size="23.4">Over</text>
<text transform="translate(125.3 1166.1) scale(1 1.01)" font-size="23.4" text-anchor="middle">0</text>
<text transform="translate(273.3 1166.1) scale(1 1.01)" font-size="23.4" text-anchor="middle">500</text>
<text transform="translate(420.3 1166.1) scale(1 1.01)" font-size="23.4" text-anchor="middle">1000</text>
<text transform="translate(567.3 1166.1) scale(1 1.01)" font-size="23.4" text-anchor="middle">1500</text>
<text transform="translate(84.65 681.2) scale(1 1.01)" font-size="23.4" text-anchor="end">100</text>
<text transform="translate(84.65 787.2) scale(1 1.01)" font-size="23.4" text-anchor="end">80</text>
<text transform="translate(84.65 892.2) scale(1 1.01)" font-size="23.4" text-anchor="end">60</text>
<text transform="translate(84.65 998.2) scale(1 1.01)" font-size="23.4" text-anchor="end">40</text>
<text transform="translate(84.65 1103.2) scale(1 1.01)" font-size="23.4" text-anchor="end">20</text>
<text x="341.75" y="638.9" font-size="25.0" text-anchor="middle">t(11;14) survival vs. R-2653 activity</text>
<text x="341.75" y="1196.6" font-size="25.0" text-anchor="middle">Time (days)</text>
<text transform="translate(32.7 890.05) rotate(-90)" font-size="25.0" text-anchor="middle">Progression-free (%)</text>
</g>
</g>
<g>
<path d="M730 651.5V1130M851 651.5V1130M973 651.5V1130M1094 651.5V1130M708 673H1181.5M708 760H1181.5M708 847H1181.5M708 934H1181.5M708 1021H1181.5M708 1108H1181.5" stroke="#cccccc" stroke-width="2.0" fill="none"/>
<g fill="none" stroke-width="4.17" stroke-linecap="round" stroke-linejoin="round" stroke-opacity="0.8">
<path d="M729.16 672.92L729.16 686.07L774.15 686.07L774.15 698.98L779.91 698.98L779.91 712.01L814.62 712.01L814.62 724.92L817.13 724.92L817.13 738.7L836.8 738.7L836.8 753.99L871.01 753.99L871.01 768.78L877.9 768.78L877.9 785.07L881.66 785.07L881.66 801.99L901.96 801.99L902.13 801.89L902.13 818.56L902.75 818.56L902.75 819.18L903.38 819.18L903.38 835.85L911.9 835.85L911.9 853.89L924.06 853.89L924.06 874.95L934.96 874.95L934.96 895.87L943.86 895.87L943.86 916.92L944.8 916.92L944.8 917.55L945.74 917.55L945.74 940.98L958.89 940.98L959.18 941.03L959.18 968.85L1000.54 968.85L1000.54 996.79L1015.57 996.79L1015.6 1108L1059.7 1108" stroke="#808080"/>
<path d="M729.41 672.92L729.41 679.81L733.55 679.81L733.55 686.45L739.44 686.45L739.44 693.59L748.83 693.59L748.83 700.74L760.36 700.74L760.36 707.38L761.18 707.38L761.18 708L761.99 708L761.99 714.9L764.12 714.9L764.12 722.41L771.01 722.41L771.01 729.93L778.66 729.93L778.66 737.83L787.05 737.83L787.05 744.97L797.08 744.97L797.08 753.12L797.96 753.12L797.96 760.88L820.01 760.88L820.01 768.15L821.76 768.15L821.76 776.92L823.02 776.92L823.02 784.44L825.02 784.44L825.02 792.84L839.06 792.84L839.06 801.99L876.02 801.99L876.06 801.89L876.06 809.78L876.56 809.78L876.56 810.41L877.07 810.41L877.07 819.18L877.57 819.18L877.57 819.81L878.07 819.81L878.07 836.73L881.2 836.73L881.2 853.64L881.64 853.64L881.64 854.27L882.08 854.27L882.08 863.67L900.62 863.67L900.62 883.72L901.75 883.72L901.75 892.49L902.38 892.49L902.38 893.12L903 893.12L903 902.51L903.51 902.51L903.51 903.14L904.01 903.14L904.01 912.91L916.91 912.91L916.91 925.45L929.07 925.45L929.07 938.23L940.97 938.23L941.01 938.52L941.01 952.93L952.67 952.93L952.67 967.22L961.06 967.22L961.06 982.38L979.86 982.38L979.86 997.67L996.9 997.67L996.9 1108L1160.3 1108" stroke="#ff0000"/>
</g>
<path d="M708 651.5V1130M708 1130H1181.5" stroke="#cccccc" stroke-width="2.1" stroke-linecap="square" fill="none"/>
<path d="M708 651.5H1181.5M1181.5 651.5V1130" stroke="#cccccc" stroke-width="2.6" stroke-linecap="square" fill="none"/>
<rect x="1013.4" y="663.1" width="156.6" height="72.1" rx="5" ry="5" fill="#ffffff" fill-opacity="0.8" stroke="#cccccc" stroke-opacity="0.8" stroke-width="2.1"/>
<path d="M1023.1 680.9H1068.7" stroke="#808080" stroke-opacity="0.8" stroke-width="4.17" stroke-linecap="round" fill="none"/>
<path d="M1023.1 713.2H1068.7" stroke="#ff0000" stroke-opacity="0.8" stroke-width="4.17" stroke-linecap="round" fill="none"/>
<g opacity="0.999">
<text transform="translate(1085.35 688.35) scale(1 1.01)" font-size="23.4">Neither</text>
<text transform="translate(1085.35 720.65) scale(1 1.01)" font-size="23.4">Over</text>
<text transform="translate(729.3 1166.1) scale(1 1.01)" font-size="23.4" text-anchor="middle">0</text>
<text transform="translate(850.3 1166.1) scale(1 1.01)" font-size="23.4" text-anchor="middle">500</text>
<text transform="translate(972.3 1166.1) scale(1 1.01)" font-size="23.4" text-anchor="middle">1000</text>
<text transform="translate(1093.3 1166.1) scale(1 1.01)" font-size="23.4" text-anchor="middle">1500</text>
<text transform="translate(687.65 681.2) scale(1 1.01)" font-size="23.4" text-anchor="end">100</text>
<text transform="translate(687.65 768.2) scale(1 1.01)" font-size="23.4" text-anchor="end">80</text>
<text transform="translate(687.65 855.2) scale(1 1.01)" font-size="23.4" text-anchor="end">60</text>
<text transform="translate(687.65 942.2) scale(1 1.01)" font-size="23.4" text-anchor="end">40</text>
<text transform="translate(687.65 1029.2) scale(1 1.01)" font-size="23.4" text-anchor="end">20</text>
<text transform="translate(687.65 1116.2) scale(1 1.01)" font-size="23.4" text-anchor="end">0</text>
<text x="944.75" y="638.9" font-size="25.0" text-anchor="middle">t(4;14) survival vs. R-2653 activity</text>
<text x="944.75" y="1196.6" font-size="25.0" text-anchor="middle">Time (days)</text>
<text transform="translate(635.7 890.05) rotate(-90)" font-size="25.0" text-anchor="middle">Progression-free (%)</text>
</g>
</g>
<g>
<path d="M1330 651.5V1130M1452 651.5V1130M1573 651.5V1130M1695 651.5V1130M1308.4 673H1782M1308.4 760H1782M1308.4 847H1782M1308.4 934H1782M1308.4 1021H1782M1308.4 1108H1782" stroke="#cccccc" stroke-width="2.0" fill="none"/>
<g fill="none" stroke-width="4.17" stroke-linecap="round" stroke-linejoin="round" stroke-opacity="0.8">
<path d="M1330.04 672.92L1330.04 688.96L1380.16 688.96L1380.16 704.24L1392.94 704.24L1392.94 719.91L1393.88 719.91L1393.88 720.53L1394.82 720.53L1394.82 736.83L1413.12 736.83L1413.12 753.74L1420.64 753.74L1420.64 771.29L1425.02 771.29L1425.02 789.83L1463.49 789.83L1463.46 796L1463.46 808.53L1464.08 808.53L1464.08 809.16L1464.71 809.16L1464.71 846.12L1470.6 846.12L1470.6 864.92L1474.11 864.92L1474.11 884.09L1492.53 884.09L1492.53 902.26L1505.43 902.26L1505.43 925.07L1532 925.07L1532 955.6L1550.1 955.6L1550.1 986.1L1552.5 986.1" stroke="#808080"/>
<path d="M1330.04 672.92L1330.04 727.8L1343.19 727.8L1343.19 781.94L1346.08 781.94L1346.04 796L1346.04 836.48L1423.11 836.48L1423.11 926.95L1540.9 926.95L1540.9 1108L1760.3 1108" stroke="#ff0000"/>
</g>
<path d="M1308.4 651.5V1130M1308.4 1130H1782" stroke="#cccccc" stroke-width="2.1" stroke-linecap="square" fill="none"/>
<path d="M1308.4 651.5H1782M1782 651.5V1130" stroke="#cccccc" stroke-width="2.6" stroke-linecap="square" fill="none"/>
<rect x="1613.9" y="663.1" width="156.6" height="72.1" rx="5" ry="5" fill="#ffffff" fill-opacity="0.8" stroke="#cccccc" stroke-opacity="0.8" stroke-width="2.1"/>
<path d="M1623.6 680.9H1669.2" stroke="#808080" stroke-opacity="0.8" stroke-width="4.17" stroke-linecap="round" fill="none"/>
<path d="M1623.6 713.2H1669.2" stroke="#ff0000" stroke-opacity="0.8" stroke-width="4.17" stroke-linecap="round" fill="none"/>
<g opacity="0.999">
<text transform="translate(1685.85 688.35) scale(1 1.01)" font-size="23.4">Neither</text>
<text transform="translate(1685.85 720.65) scale(1 1.01)" font-size="23.4">Over</text>
<text transform="translate(1329.3 1166.1) scale(1 1.01)" font-size="23.4" text-anchor="middle">0</text>
<text transform="translate(1451.3 1166.1) scale(1 1.01)" font-size="23.4" text-anchor="middle">500</text>
<text transform="translate(1572.3 1166.1) scale(1 1.01)" font-size="23.4" text-anchor="middle">1000</text>
<text transform="translate(1694.3 1166.1) scale(1 1.01)" font-size="23.4" text-anchor="middle">1500</text>
<text transform="translate(1288.05 681.2) scale(1 1.01)" font-size="23.4" text-anchor="end">100</text>
<text transform="translate(1288.05 768.2) scale(1 1.01)" font-size="23.4" text-anchor="end">80</text>
<text transform="translate(1288.05 855.2) scale(1 1.01)" font-size="23.4" text-anchor="end">60</text>
<text transform="translate(1288.05 942.2) scale(1 1.01)" font-size="23.4" text-anchor="end">40</text>
<text transform="translate(1288.05 1029.2) scale(1 1.01)" font-size="23.4" text-anchor="end">20</text>
<text transform="translate(1288.05 1116.2) scale(1 1.01)" font-size="23.4" text-anchor="end">0</text>
<text x="1545.2" y="638.9" font-size="25.0" text-anchor="middle">t(14;16) survival vs. R-2653 activity</text>
<text x="1545.2" y="1196.6" font-size="25.0" text-anchor="middle">Time (days)</text>
<text transform="translate(1236.1 890.05) rotate(-90)" font-size="25.0" text-anchor="middle">Progression-free (%)</text>
</g>
</g>
<g>
<path d="M1930 651.5V1130M2020 651.5V1130M2109 651.5V1130M2198 651.5V1130M2288 651.5V1130M2377 651.5V1130M1908.9 673H2382.7M1908.9 734H2382.7M1908.9 794H2382.7M1908.9 855H2382.7M1908.9 915H2382.7M1908.9 976H2382.7M1908.9 1036H2382.7M1908.9 1097H2382.7" stroke="#cccccc" stroke-width="2.0" fill="none"/>
<g fill="none" stroke-width="4.17" stroke-linecap="round" stroke-linejoin="round" stroke-opacity="0.8">
<path d="M1930.04 672.92L1930.04 693.84L1955.98 693.84L1955.98 735.82L1973.02 735.82L1973.02 756.87L1977.03 756.87L1977.03 777.8L1997.08 777.8L1997.08 800.11L2039.93 800.11L2040 799.76L2040 822.94L2044.01 822.94L2044.01 846.12L2047.14 846.12L2047.14 869.93L2094.13 869.93L2094.13 893.99L2140.12 893.99L2140.12 917.8L2144 917.8L2144 943.87L2176.84 943.87L2177.09 943.77L2177.09 968.83L2180.6 968.83L2180.6 994.9L2229.09 994.9L2229.09 1022.84L2246.01 1022.84L2246.01 1051.91L2257.04 1051.91L2257.04 1080.11L2260.05 1080.11L2260.05 1107.8L2275.7 1107.8" stroke="#808080"/>
<path d="M1930.04 672.92L1930.04 773.79L1959.86 773.79L1960.05 796L1960.05 874.95L1986.99 874.95L1987 975.6L2005.8 975.6L2005.8 1076.4L2360.7 1076.4" stroke="#ff0000"/>
</g>
<path d="M1908.9 651.5V1130M1908.9 1130H2382.7" stroke="#cccccc" stroke-width="2.1" stroke-linecap="square" fill="none"/>
<path d="M1908.9 651.5H2382.7M2382.7 651.5V1130" stroke="#cccccc" stroke-width="2.6" stroke-linecap="square" fill="none"/>
<rect x="2214.6" y="663.1" width="156.6" height="72.1" rx="5" ry="5" fill="#ffffff" fill-opacity="0.8" stroke="#cccccc" stroke-opacity="0.8" stroke-width="2.1"/>
<path d="M2224.3 680.9H2269.9" stroke="#808080" stroke-opacity="0.8" stroke-width="4.17" stroke-linecap="round" fill="none"/>
<path d="M2224.3 713.2H2269.9" stroke="#ff0000" stroke-opacity="0.8" stroke-width="4.17" stroke-linecap="round" fill="none"/>
<g opacity="0.999">
<text transform="translate(2286.55 688.35) scale(1 1.01)" font-size="23.4">Neither</text>
<text transform="translate(2286.55 720.65) scale(1 1.01)" font-size="23.4">Over</text>
<text transform="translate(1929.3 1166.1) scale(1 1.01)" font-size="23.4" text-anchor="middle">0</text>
<text transform="translate(2019.3 1166.1) scale(1 1.01)" font-size="23.4" text-anchor="middle">200</text>
<text transform="translate(2108.3 1166.1) scale(1 1.01)" font-size="23.4" text-anchor="middle">400</text>
<text transform="translate(2197.3 1166.1) scale(1 1.01)" font-size="23.4" text-anchor="middle">600</text>
<text transform="translate(2287.3 1166.1) scale(1 1.01)" font-size="23.4" text-anchor="middle">800</text>
<text transform="translate(2376.3 1166.1) scale(1 1.01)" font-size="23.4" text-anchor="middle">1000</text>
<text transform="translate(1888.55 681.2) scale(1 1.01)" font-size="23.4" text-anchor="end">100</text>
<text transform="translate(1888.55 742.2) scale(1 1.01)" font-size="23.4" text-anchor="end">90</text>
<text transform="translate(1888.55 802.2) scale(1 1.01)" font-size="23.4" text-anchor="end">80</text>
<text transform="translate(1888.55 863.2) scale(1 1.01)" font-size="23.4" text-anchor="end">70</text>
<text transform="translate(1888.55 923.2) scale(1 1.01)" font-size="23.4" text-anchor="end">60</text>
<text transform="translate(1888.55 984.2) scale(1 1.01)" font-size="23.4" text-anchor="end">50</text>
<text transform="translate(1888.55 1044.2) scale(1 1.01)" font-size="23.4" text-anchor="end">40</text>
<text transform="translate(1888.55 1105.2) scale(1 1.01)" font-size="23.4" text-anchor="end">30</text>
<text x="2145.8" y="638.9" font-size="25.0" text-anchor="middle">High-MYC survival vs. R-2653 activity</text>
<text x="2145.8" y="1196.6" font-size="25.0" text-anchor="middle">Time (days)</text>
<text transform="translate(1836.6 890.05) rotate(-90)" font-size="25.0" text-anchor="middle">Progression-free (%)</text>
</g>
</g>
</svg>
</body>
</html>
